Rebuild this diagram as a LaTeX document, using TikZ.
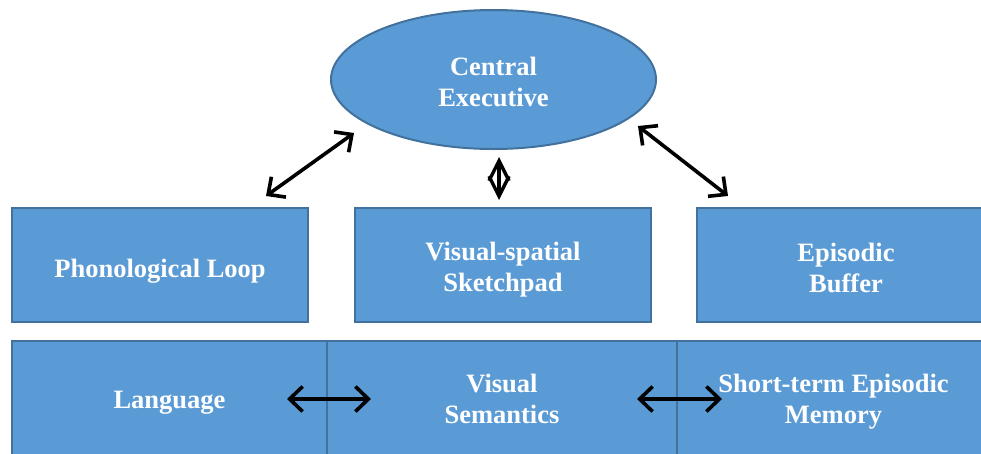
\documentclass[tikz,border=0pt]{standalone}
\usepackage{fontspec}
\setmainfont{Liberation Serif}
\usetikzlibrary{shapes.geometric,arrows.meta}
\definecolor{boxfill}{HTML}{5B9BD5}
\definecolor{boxedge}{HTML}{41719C}
\tikzset{
  block/.style={draw=boxedge, fill=boxfill, line width=2pt, rectangle, inner sep=0pt},
  oval/.style={block, ellipse},
  lbl/.style={text=white, align=center, inner sep=0pt,
    font=\fontsize{26.5}{31}\selectfont\bfseries},
  link/.style={line width=3.6pt, black,
    {Straight Barb[length=13pt,width=25pt]}-{Straight Barb[length=13pt,width=25pt]}},
  shortlink/.style={line width=3.4pt, black,
    {Straight Barb[length=20pt,width=20pt]}-{Straight Barb[length=20pt,width=20pt]}}
}
\begin{document}
\begin{tikzpicture}[x=1pt,y=-1pt]
\useasboundingbox (0,0) rectangle (981,453);
% top: central executive
\node[oval, minimum width=325pt, minimum height=139pt] (ce) at (493.5,79.5) {};
% middle row of subsystems
\node[block, minimum width=296pt, minimum height=114pt] (pl) at (160,265) {};
\node[block, minimum width=296pt, minimum height=114pt] (vs) at (503,265) {};
\node[block, minimum width=298pt, minimum height=114pt] (eb) at (846,265) {};
% bottom row of long-term stores
\node[block, minimum width=315pt, minimum height=118pt] (lang) at (169.5,400) {};
\node[block, minimum width=350pt, minimum height=118pt] (sem) at (502,400) {};
\node[block, minimum width=313pt, minimum height=118pt] (epm) at (833.5,400) {};
% labels
\node[lbl] (ce-t) at ([yshift=-2.5pt]ce.center) {Central\\Executive};
\node[lbl] (pl-t) at ([yshift=-6pt]pl.center) {Phonological Loop};
\node[lbl] (vs-t) at ([yshift=-5pt]vs.center) {Visual-spatial\\Sketchpad};
\node[lbl] (eb-t) at ([yshift=-3pt]eb.center) {Episodic\\Buffer};
\node[lbl] (lang-t) at ([yshift=-3pt]lang.center) {Language};
\node[lbl] (sem-t) at ([yshift=1.5pt]sem.center) {Visual\\Semantics};
\node[lbl] (epm-t) at ([yshift=-1.5pt]epm.center) {Short-term Episodic\\Memory};
% arrow end points
\coordinate (a1) at (266,196);
\coordinate (a2) at (354,133);
\coordinate (b1) at (499,157);
\coordinate (b2) at (499,200);
\coordinate (c1) at (638,126);
\coordinate (c2) at (728,196);
\coordinate (d1) at (287,399);
\coordinate (d2) at (371,399);
\coordinate (e1) at (637,399);
\coordinate (e2) at (722,399);
\draw[link] (a1) -- (a2);
\draw[shortlink] (b1) -- (b2);
\draw[link] (c1) -- (c2);
\draw[link] (d1) -- (d2);
\draw[link] (e1) -- (e2);
\end{tikzpicture}
\end{document}
